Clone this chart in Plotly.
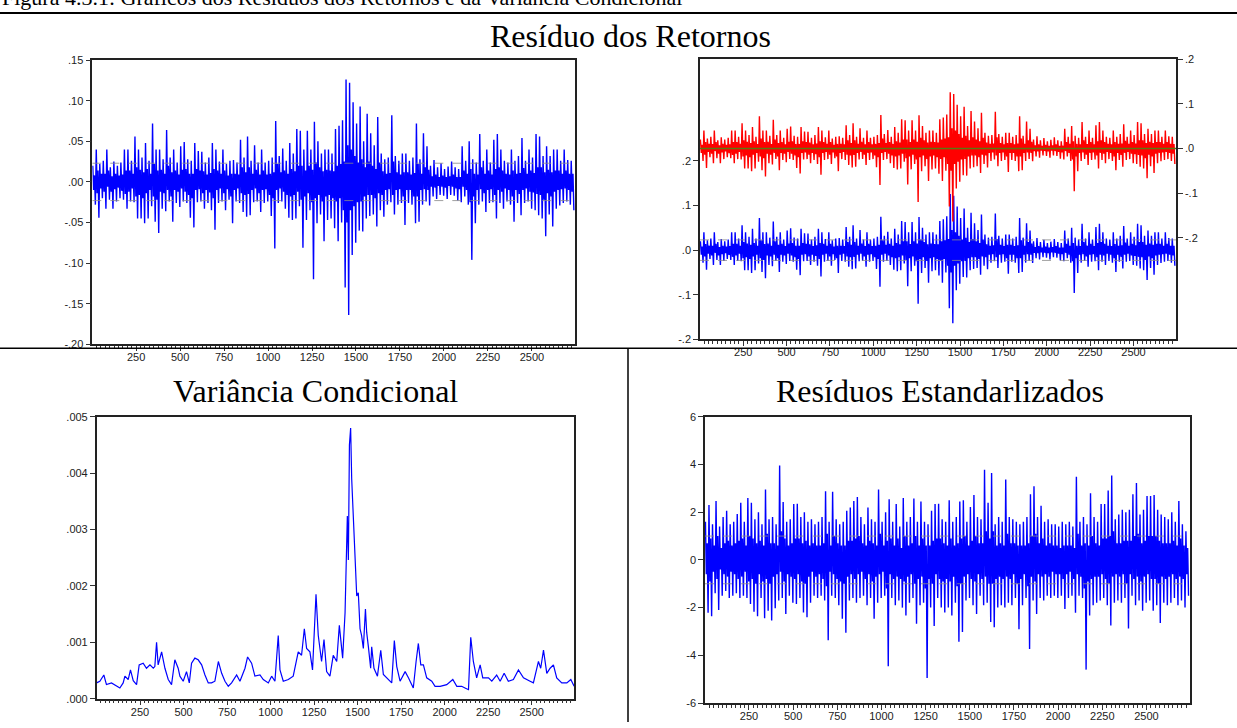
import numpy as np
import plotly.graph_objects as go

# ---------------- data ----------------
N_OBS = 2745
BIN = 20  # observations per bin for the envelopes below

# Residuals of returns, per 20-observation bin:
# hi = bin maximum, lo = bin minimum, a / b = inner swing low / high
resid_hi = [.020, .040, .022, .026, .040, .018, .025, .020, .024, .040,
            .040, .026, .056, .040, .030, .048, .026, .072, .040, .040,
            .028, .064, .030, .040, .024, .044, .049, .028, .026, .048,
            .038, .037, .024, .030, .048, .040, .025, .040, .022, .026,
            .027, .024, .052, .030, .056, .026, .045, .024, .040, .024,
            .026, .030, .075, .032, .041, .026, .048, .035, .065, .063,
            .040, .063, .040, .074, .050, .035, .040, .040, .035, .065,
            .069, .076, .126, .122, .098, .072, .093, .050, .084, .060,
            .045, .080, .035, .028, .030, .082, .032, .026, .035, .035,
            .026, .030, .072, .028, .060, .044, .020, .027, .018, .023,
            .016, .019, .025, .018, .016, .044, .026, .050, .028, .024,
            .059, .026, .040, .024, .052, .059, .040, .026, .024, .040,
            .026, .032, .054, .026, .040, .030, .059, .056, .032, .044,
            .032, .040, .040, .026, .040, .027, .026]
resid_lo = [-.028, -.044, -.020, -.033, -.022, -.033, -.024, -.020, -.022, -.033,
            -.024, -.025, -.045, -.045, -.051, -.045, -.030, -.049, -.063, -.033,
            -.036, -.024, -.049, -.026, -.031, -.024, -.026, -.044, -.056, -.025,
            -.024, -.033, -.026, -.035, -.059, -.026, -.024, -.035, -.022, -.051,
            -.024, -.026, -.037, -.043, -.041, -.025, -.024, -.037, -.026, -.024,
            -.042, -.082, -.026, -.024, -.033, -.044, -.047, -.045, -.030, -.081,
            -.047, -.035, -.120, -.051, -.040, -.073, -.047, -.045, -.057, -.073,
            -.050, -.130, -.164, -.090, -.075, -.060, -.061, -.045, -.042, -.040,
            -.055, -.035, -.043, -.028, -.025, -.040, -.028, -.026, -.053, -.026,
            -.028, -.051, -.049, -.028, -.024, -.029, -.018, -.021, -.016, -.017,
            -.021, -.016, -.017, -.023, -.025, -.018, -.028, -.096, -.051, -.028,
            -.024, -.037, -.026, -.025, -.045, -.026, -.033, -.024, -.028, -.049,
            -.026, -.041, -.026, -.024, -.033, -.035, -.041, -.045, -.067, -.040,
            -.055, -.033, -.029, -.026, -.024, -.028, -.035]
resid_a = [-.010, -.014, -.008, -.012, -.006, -.012, -.009, -.007, -.011, -.015,
           -.012, -.008, -.018, -.016, -.020, -.014, -.010, -.018, -.022, -.012,
           -.014, -.010, -.018, -.010, -.012, -.008, -.012, -.016, -.020, -.010,
           -.009, -.014, -.010, -.013, -.020, -.010, -.008, -.014, -.009, -.018,
           -.010, -.008, -.014, -.016, -.015, -.010, -.008, -.014, -.010, -.009,
           -.016, -.020, -.010, -.008, -.012, -.016, -.018, -.016, -.012, -.022,
           -.018, -.014, -.025, -.020, -.016, -.024, -.018, -.016, -.020, -.024,
           -.020, -.035, -.050, -.035, -.030, -.025, -.024, -.018, -.016, -.016,
           -.020, -.014, -.016, -.010, -.009, -.016, -.010, -.009, -.018, -.010,
           -.010, -.018, -.018, -.010, -.009, -.010, -.006, -.007, -.005, -.006,
           -.007, -.005, -.006, -.008, -.009, -.006, -.010, -.025, -.018, -.010,
           -.009, -.014, -.010, -.009, -.016, -.010, -.012, -.008, -.010, -.018,
           -.010, -.015, -.010, -.008, -.012, -.013, -.015, -.016, -.022, -.014,
           -.018, -.012, -.010, -.009, -.008, -.010, -.012]
resid_b = [.008, .014, .010, .010, .014, .007, .010, .008, .009, .014,
           .014, .010, .018, .015, .012, .016, .010, .022, .014, .015,
           .010, .020, .012, .014, .009, .015, .016, .010, .010, .016,
           .014, .013, .009, .011, .016, .014, .010, .014, .008, .010,
           .010, .009, .018, .012, .018, .010, .015, .009, .014, .009,
           .010, .012, .022, .012, .014, .010, .016, .013, .020, .020,
           .014, .020, .015, .024, .018, .013, .015, .014, .013, .020,
           .022, .025, .045, .040, .032, .024, .028, .018, .025, .020,
           .016, .024, .013, .010, .011, .025, .012, .009, .012, .012,
           .009, .011, .022, .010, .018, .015, .007, .009, .006, .008,
           .006, .007, .009, .006, .006, .014, .010, .016, .010, .009,
           .018, .010, .014, .009, .016, .018, .014, .010, .009, .014,
           .010, .011, .017, .010, .014, .011, .018, .018, .012, .015,
           .012, .014, .014, .010, .014, .010, .010]
fitted_mean = 0.0       # fitted (constant mean) of the returns
resid_se = 0.023        # +/- 1 S.E. band of the residuals

# Conditional variance: (observation, value)
var_obs = [0, 19, 42, 57, 86, 115, 134, 153, 163, 182, 195, 211, 230, 245, 268,
           287, 307, 326, 335, 345, 354, 374, 393, 412, 431, 450, 469, 479, 498,
           517, 533, 546, 565, 584, 604, 623, 642, 661, 680, 700, 719, 738, 757,
           776, 805, 824, 853, 868, 891, 910, 939, 958, 987, 1006, 1025, 1044,
           1054, 1073, 1102, 1130, 1159, 1178, 1194, 1207, 1226, 1241, 1261,
           1274, 1293, 1307, 1322, 1341, 1360, 1380, 1395, 1414, 1428, 1441,
           1447, 1453, 1460, 1466, 1476, 1485, 1495, 1504, 1514, 1523, 1533,
           1545, 1552, 1562, 1575, 1581, 1594, 1614, 1633, 1648, 1677, 1696,
           1711, 1725, 1744, 1773, 1792, 1820, 1836, 1849, 1863, 1878, 1897,
           1926, 1945, 1974, 2012, 2047, 2070, 2098, 2117, 2137, 2150, 2165,
           2184, 2204, 2219, 2252, 2271, 2299, 2319, 2342, 2366, 2395, 2424,
           2453, 2491, 2510, 2539, 2552, 2568, 2587, 2606, 2625, 2644, 2673,
           2702, 2725, 2744]
var_val = [.00028, .00031, .00042, .00025, .00028, .00022, .00019, .00028, .00040,
           .00034, .00051, .00032, .00025, .00060, .00063, .00054, .00060, .00054,
           .00057, .00100, .00060, .00083, .00054, .00034, .00025, .00069, .00054,
           .00040, .00031, .00048, .00028, .00063, .00072, .00069, .00060, .00042,
           .00028, .00028, .00031, .00066, .00045, .00031, .00022, .00028, .00042,
           .00031, .00054, .00074, .00063, .00040, .00042, .00034, .00028, .00040,
           .00031, .00112, .00051, .00031, .00034, .00040, .00083, .00077, .00124,
           .00089, .00083, .00051, .00185, .00112, .00066, .00105, .00048, .00040,
           .00077, .00066, .00130, .00072, .00153, .00324, .00246, .00450, .00480,
           .00390, .00319, .00228, .00182, .00188, .00124, .00112, .00089, .00159,
           .00118, .00092, .00054, .00092, .00054, .00040, .00086, .00043, .00034,
           .00028, .00103, .00057, .00031, .00048, .00037, .00019, .00066, .00098,
           .00060, .00060, .00037, .00031, .00022, .00022, .00025, .00034, .00022,
           .00022, .00019, .00016, .00109, .00066, .00037, .00060, .00037, .00037,
           .00031, .00042, .00031, .00045, .00031, .00034, .00051, .00037, .00031,
           .00028, .00066, .00054, .00086, .00045, .00054, .00060, .00037, .00028,
           .00028, .00034, .00022]

# Standardized residuals, per 20-observation bin (same layout as above)
std_hi = [1.6, 2.3, 1.5, 2.47, 1.4, 1.8, 2.06, 1.5, 1.6, 1.92,
          2.4, 1.6, 2.6, 2.4, 1.7, 2.0, 1.5, 2.95, 1.7, 1.8,
          1.5, 3.96, 2.43, 1.6, 1.7, 2.34, 2.36, 1.8, 2.0, 1.6,
          1.7, 1.5, 1.6, 1.8, 2.88, 1.6, 2.86, 1.7, 1.5, 1.6,
          2.06, 2.2, 2.47, 2.64, 1.8, 1.5, 2.2, 1.7, 1.6, 2.95,
          1.6, 2.0, 2.54, 1.6, 2.34, 1.4, 2.6, 1.6, 1.8, 2.58,
          1.6, 2.45, 1.6, 1.5, 2.06, 2.34, 2.36, 1.7, 1.6, 2.5,
          1.6, 1.8, 2.45, 2.5, 1.6, 2.22, 2.72, 1.8, 1.7, 3.78,
          2.4, 3.64, 1.5, 1.8, 1.6, 3.37, 1.8, 1.7, 1.6, 1.5,
          1.6, 1.8, 2.75, 3.09, 1.8, 2.27, 1.6, 1.7, 1.5, 1.5,
          1.4, 1.6, 1.5, 1.6, 1.4, 3.49, 1.6, 1.8, 1.5, 2.79,
          1.8, 1.6, 2.34, 2.34, 2.91, 3.54, 1.7, 1.9, 2.1, 2.0,
          2.1, 2.75, 3.23, 1.9, 2.1, 2.68, 2.68, 2.72, 2.1, 1.9,
          1.8, 1.7, 2.0, 1.6, 2.47, 1.5, 1.2]
std_lo = [-2.22, -2.36, -1.4, -2.1, -1.5, -1.3, -1.6, -1.5, -1.4, -1.6,
          -1.5, -1.6, -1.85, -2.17, -2.36, -1.6, -2.45, -2.13, -2.54, -2.03,
          -1.7, -1.6, -2.27, -1.5, -1.8, -1.85, -1.6, -2.2, -2.4, -1.8,
          -1.5, -1.6, -1.5, -1.7, -3.37, -1.5, -1.6, -1.9, -2.47, -3.05,
          -1.7, -1.6, -1.8, -1.6, -1.5, -1.9, -1.6, -2.47, -1.8, -1.6,
          -1.5, -4.46, -1.6, -1.9, -1.7, -2.0, -2.33, -1.8, -1.6, -2.68,
          -1.9, -1.8, -4.95, -2.0, -2.77, -1.6, -2.0, -2.2, -2.0, -2.33,
          -1.8, -3.43, -3.02, -1.7, -1.6, -1.9, -2.27, -1.5, -1.9, -1.8,
          -2.6, -2.82, -2.0, -1.9, -2.0, -1.8, -1.9, -1.6, -2.91, -1.9,
          -1.6, -3.74, -1.7, -2.27, -1.6, -1.7, -1.5, -1.6, -1.5, -1.6,
          -1.5, -2.06, -1.6, -1.5, -2.22, -1.5, -1.6, -4.6, -2.33, -1.9,
          -1.8, -1.7, -1.6, -1.9, -2.75, -1.8, -1.7, -1.8, -1.6, -2.88,
          -1.5, -1.9, -1.7, -2.13, -1.8, -1.7, -2.13, -1.9, -2.64, -1.8,
          -1.9, -1.8, -1.6, -1.9, -1.7, -1.99, -1.5]
std_a = [-.6, -.9, -.5, -.8, -.4, -.6, -.7, -.5, -.6, -.8,
         -.7, -.5, -.9, -.8, -1.0, -.6, -.9, -.8, -1.0, -.7,
         -.6, -.5, -.9, -.6, -.7, -.8, -.6, -.9, -1.0, -.7,
         -.5, -.7, -.6, -.8, -1.1, -.5, -.6, -.8, -.9, -1.0,
         -.7, -.6, -.8, -.6, -.5, -.8, -.6, -.9, -.7, -.6,
         -.5, -1.2, -.6, -.8, -.7, -.8, -.9, -.7, -.6, -1.0,
         -.8, -.7, -1.2, -.8, -1.0, -.6, -.8, -.9, -.8, -.9,
         -.7, -1.1, -1.0, -.7, -.6, -.8, -.9, -.6, -.8, -.7,
         -1.0, -1.0, -.8, -.7, -.8, -.7, -.8, -.6, -1.0, -.8,
         -.6, -1.1, -.7, -.9, -.6, -.7, -.6, -.7, -.5, -.6,
         -.6, -.8, -.6, -.5, -.8, -.6, -.7, -1.2, -.9, -.8,
         -.7, -.7, -.6, -.8, -1.0, -.7, -.6, -.7, -.6, -1.0,
         -.6, -.8, -.7, -.9, -.7, -.6, -.8, -.8, -1.0, -.7,
         -.8, -.7, -.6, -.8, -.7, -.8, -.6]
std_b = [.7, .9, .6, 1.0, .5, .7, .8, .6, .7, .8,
         .9, .6, 1.0, .9, .7, .8, .6, 1.1, .7, .7,
         .6, 1.2, .9, .6, .7, .9, .9, .7, .8, .6,
         .7, .6, .6, .7, 1.1, .6, 1.0, .7, .6, .6,
         .8, .8, .9, 1.0, .7, .6, .8, .7, .6, 1.1,
         .6, .8, .9, .6, .9, .5, 1.0, .6, .7, 1.0,
         .6, .9, .6, .6, .8, .9, .9, .7, .6, .9,
         .6, .7, .9, 1.0, .6, .8, 1.0, .7, .7, 1.2,
         .9, 1.2, .6, .7, .6, 1.1, .7, .7, .6, .6,
         .6, .7, 1.0, 1.1, .7, .9, .6, .7, .6, .6,
         .5, .6, .6, .6, .5, 1.1, .6, .7, .6, 1.0,
         .7, .6, .9, .9, 1.0, 1.2, .7, .7, .8, .8,
         .8, 1.0, 1.1, .7, .8, 1.0, 1.0, 1.0, .8, .7,
         .7, .7, .8, .6, .9, .6, .5]
std_band = 1.0

# Tick labels
tl_y_vals = [-0.20, -0.15, -0.10, -0.05, 0.0, 0.05, 0.10, 0.15]
tl_y_text = ["-.20", "-.15", "-.10", "-.05", ".00", ".05", ".10", ".15"]
tr_y_vals = [-0.2, -0.1, 0.0, 0.1, 0.2]
tr_y_text = ["-.2", "-.1", ".0", ".1", ".2"]
bl_y_vals = [0.0, 0.001, 0.002, 0.003, 0.004, 0.005]
bl_y_text = [".000", ".001", ".002", ".003", ".004", ".005"]
br_y_vals = [-6, -4, -2, 0, 2, 4, 6]

titles = ["Resíduo dos Retornos", "Variância Condicional", "Resíduos Estandarlizados"]
header = "Figura 4.3.1: Gráficos dos Resíduos dos Retornos e da Variância Condicional"

# ---------------- helpers ----------------
W, H = 1237, 728
def px_x(p): return p / W
def px_y(p): return 1 - p / H

def bins_to_line(hi, a, b, lo):
    """Each bin: maximum, inner low, inner high, minimum, in that order."""
    cols = np.column_stack([hi, a, b, lo]).astype(float)
    n = cols.shape[0]
    start = np.arange(n) * BIN + 1
    offs = np.array([0.125, 0.375, 0.625, 0.875]) * BIN
    xs = (start[:, None] + offs[None, :]).ravel()
    return xs, cols.ravel()

BLUE = "#0000FF"
RED = "#FF0000"
OLIVE = "#5B7A12"
GRAY = "#8A8A8A"
TICKFONT = dict(family="Liberation Sans, Arial, sans-serif", size=11, color="#222")
SERIF = "Liberation Serif, Times New Roman, serif"

rx, ry = bins_to_line(resid_hi, resid_a, resid_b, resid_lo)
ax_actual = ry + fitted_mean
sx, sy = bins_to_line(std_hi, std_a, std_b, std_lo)
LW = 1.4

fig = go.Figure()
fig.add_trace(go.Scatter(x=rx, y=ry, mode="lines", line=dict(color=BLUE, width=LW),
                         xaxis="x", yaxis="y", showlegend=False))
fig.add_trace(go.Scatter(x=rx, y=ax_actual, mode="lines", line=dict(color=RED, width=LW),
                         xaxis="x2", yaxis="y3", showlegend=False))
fig.add_trace(go.Scatter(x=[1, N_OBS], y=[fitted_mean, fitted_mean], mode="lines",
                         line=dict(color=OLIVE, width=1.5), xaxis="x2", yaxis="y3",
                         showlegend=False))
fig.add_trace(go.Scatter(x=rx, y=ry, mode="lines", line=dict(color=BLUE, width=LW),
                         xaxis="x2", yaxis="y2", showlegend=False))
fig.add_trace(go.Scatter(x=var_obs, y=var_val, mode="lines", line=dict(color=BLUE, width=1.2),
                         xaxis="x3", yaxis="y4", showlegend=False))
fig.add_trace(go.Scatter(x=sx, y=sy, mode="lines", line=dict(color=BLUE, width=LW),
                         xaxis="x4", yaxis="y5", showlegend=False))

shapes = []
for xr, yr, v in [("x", "y", resid_se), ("x", "y", -resid_se),
                  ("x2", "y2", resid_se), ("x2", "y2", -resid_se),
                  ("x4", "y5", std_band), ("x4", "y5", -std_band)]:
    shapes.append(dict(type="line", xref=xr, yref=yr, x0=1, x1=N_OBS, y0=v, y1=v,
                       line=dict(color=GRAY, width=1, dash="dash"), opacity=0.8))
shapes.append(dict(type="line", xref="paper", yref="paper", x0=0, x1=1,
                   y0=px_y(7), y1=px_y(7), line=dict(color="black", width=2)))
shapes.append(dict(type="line", xref="paper", yref="paper", x0=0, x1=1,
                   y0=px_y(348), y1=px_y(348), line=dict(color="black", width=1.5)))
shapes.append(dict(type="line", xref="paper", yref="paper", x0=px_x(628), x1=px_x(628),
                   y0=px_y(348), y1=0, line=dict(color="black", width=1.5)))

def xaxis(dom, anchor):
    return dict(domain=dom, anchor=anchor, range=[1, N_OBS], tickmode="linear", tick0=0,
                dtick=250, ticks="outside", ticklen=5, tickcolor="#333",
                minor=dict(ticks="outside", ticklen=3, dtick=25, tick0=0, tickcolor="#333",
                           showgrid=False),
                showline=True, mirror=True, linecolor="#222", linewidth=1.5,
                showgrid=False, zeroline=False, tickfont=TICKFONT, ticklabelstandoff=-3)

def yaxis(dom, anchor, rng, vals, text, side="left", mirror=True):
    return dict(domain=dom, anchor=anchor, range=rng, tickmode="array", tickvals=vals,
                ticktext=text, ticks="outside", ticklen=5, tickcolor="#333", side=side,
                showline=True, mirror=mirror, linecolor="#222", linewidth=1.5,
                showgrid=False, zeroline=False, tickfont=TICKFONT)

TL_X = [px_x(92.3), px_x(575)]; TL_Y = [px_y(344), px_y(55)]
TR_X = [px_x(700), px_x(1176)]; TR_Y = [px_y(339), px_y(54)]
BL_X = [px_x(96.7), px_x(574.3)]; BL_Y = [px_y(704.3), px_y(417.7)]
BR_X = [px_x(705), px_x(1189.7)]; BR_Y = [px_y(708.7), px_y(417.7)]

y3 = yaxis(TR_Y, "x2", [-0.428, 0.2], tr_y_vals, tr_y_text, side="right", mirror=False)
y3["overlaying"] = "y2"
y3.pop("domain")

fig.update_layout(
    width=W, height=H, margin=dict(l=0, r=0, t=0, b=0),
    paper_bgcolor="white", plot_bgcolor="white",
    xaxis=xaxis(TL_X, "y"), yaxis=yaxis(TL_Y, "x", [-0.20, 0.15], tl_y_vals, tl_y_text),
    xaxis2=xaxis(TR_X, "y2"),
    yaxis2=yaxis(TR_Y, "x2", [-0.2, 0.428], tr_y_vals, tr_y_text),
    yaxis3=y3,
    xaxis3=xaxis(BL_X, "y4"), yaxis4=yaxis(BL_Y, "x3", [0, 0.005], bl_y_vals, bl_y_text),
    xaxis4=xaxis(BR_X, "y5"),
    yaxis5=yaxis(BR_Y, "x4", [-6, 6], br_y_vals, [str(v) for v in br_y_vals]),
    shapes=shapes,
    annotations=[
        dict(text=header, xref="paper", yref="paper", x=0, y=px_y(6), xanchor="left",
             yanchor="bottom", showarrow=False,
             font=dict(family=SERIF, size=22, color="black")),
        dict(text=titles[0], xref="paper", yref="paper", x=px_x(630), y=px_y(30),
             xanchor="center", yanchor="middle", showarrow=False,
             font=dict(family=SERIF, size=32, color="black")),
        dict(text=titles[1], xref="paper", yref="paper", x=px_x(315), y=px_y(391),
             xanchor="center", yanchor="middle", showarrow=False,
             font=dict(family=SERIF, size=32, color="black")),
        dict(text=titles[2], xref="paper", yref="paper", x=px_x(940), y=px_y(391),
             xanchor="center", yanchor="middle", showarrow=False,
             font=dict(family=SERIF, size=32, color="black")),
    ],
)

fig.write_html("out.html", config={"displayModeBar": False},
               post_script="document.body.style.margin='0';document.body.style.overflow='hidden';")
